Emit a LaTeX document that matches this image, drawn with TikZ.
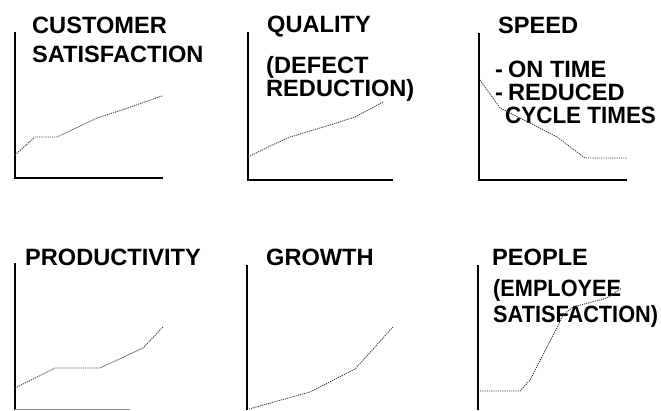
\documentclass[tikz,border=0pt]{standalone}
\usepackage{fontspec}
\usepackage{graphicx}
\setmainfont{Liberation Sans}
\newcommand{\narrowtxt}[2][0.92]{\scalebox{#1}[1]{#2}}
\begin{document}
\begin{tikzpicture}[x=1pt,y=-1pt,
  lbl/.style={anchor=base west,inner sep=0pt,font=\fontsize{23.6}{27}\selectfont\bfseries},
  axis/.style={line width=1.4pt,black},
  trend/.style={line width=0.9pt,black!75,dash pattern=on 1.2pt off 1pt}]
\useasboundingbox (0,0) rectangle (661,410);
% ---------- Panel 1: Customer satisfaction
\coordinate (a1t) at (15,32); \coordinate (a1o) at (15,178); \coordinate (a1r) at (163,178);
\draw[axis] (a1t) -- (a1o) -- (a1r);
\node[lbl] (t1a) at (32,33) {CUSTOMER};
\node[lbl] (t1b) at (32,62) {SATISFACTION};
\coordinate (c1a) at (15,155); \coordinate (c1b) at (35,137); \coordinate (c1c) at (57,137);
\coordinate (c1d) at (97,118); \coordinate (c1e) at (122,110); \coordinate (c1f) at (162,96);
\draw[trend] (c1a) -- (c1b) -- (c1c) -- (c1d) -- (c1e) -- (c1f);
% ---------- Panel 2: Quality
\coordinate (a2t) at (248,32); \coordinate (a2o) at (248,180); \coordinate (a2r) at (393,180);
\draw[axis] (a2t) -- (a2o) -- (a2r);
\node[lbl] (t2a) at (267,32) {QUALITY};
\node[lbl] (t2b) at (266,73) {(DEFECT};
\node[lbl] (t2c) at (266,96) {REDUCTION)};
\coordinate (c2a) at (248,157); \coordinate (c2b) at (270,146); \coordinate (c2c) at (290,137);
\coordinate (c2d) at (330,125); \coordinate (c2e) at (355,117); \coordinate (c2f) at (383,102);
\draw[trend] (c2a) -- (c2b) -- (c2c) -- (c2d) -- (c2e) -- (c2f);
% ---------- Panel 3: Speed
\coordinate (a3t) at (479,33); \coordinate (a3o) at (479,180); \coordinate (a3r) at (627,180);
\draw[axis] (a3t) -- (a3o) -- (a3r);
\node[lbl] (t3a) at (498,33) {SPEED};
\node[lbl] (t3b) at (495,77) {-\hspace{5pt}ON TIME};
\node[lbl] (t3c) at (495,100) {-\hspace{5pt}REDUCED};
\node[lbl] (t3d) at (505,123) {\narrowtxt[0.95]{CYCLE TIMES}};
\coordinate (c3a) at (480,80); \coordinate (c3b) at (500,108); \coordinate (c3c) at (530,123);
\coordinate (c3d) at (557,137); \coordinate (c3e) at (585,158); \coordinate (c3f) at (627,158);
\draw[trend] (c3a) -- (c3b) -- (c3c) -- (c3d) -- (c3e) -- (c3f);
% ---------- Panel 4: Productivity
\coordinate (a4t) at (15,263); \coordinate (a4o) at (15,410); \coordinate (a4r) at (130,409);
\draw[axis] (a4t) -- (a4o);
\draw[line width=1pt,black!45] (15,409) -- (a4r);
\node[lbl] (t4a) at (25,265) {PRODUCTIVITY};
\coordinate (c4a) at (15,388); \coordinate (c4b) at (55,368); \coordinate (c4c) at (100,368);
\coordinate (c4d) at (143,348); \coordinate (c4e) at (163,327);
\draw[trend] (c4a) -- (c4b) -- (c4c) -- (c4d) -- (c4e);
% ---------- Panel 5: Growth
\coordinate (a5t) at (247,265); \coordinate (a5o) at (247,410);
\draw[axis] (a5t) -- (a5o);
\node[lbl] (t5a) at (266,265) {GROWTH};
\coordinate (c5a) at (249,409); \coordinate (c5b) at (310,392); \coordinate (c5c) at (355,369);
\coordinate (c5d) at (393,327);
\draw[trend] (c5a) -- (c5b) -- (c5c) -- (c5d);
% ---------- Panel 6: People
\coordinate (a6t) at (478,265); \coordinate (a6o) at (478,410);
\draw[axis] (a6t) -- (a6o);
\node[lbl] (t6a) at (492,265) {PEOPLE};
\node[lbl] (t6b) at (493,296) {\narrowtxt{(EMPLOYEE}};
\node[lbl] (t6c) at (493,322) {\narrowtxt{SATISFACTION)}};
\coordinate (c6a) at (478,391); \coordinate (c6b) at (520,391); \coordinate (c6c) at (530,380);
\coordinate (c6d) at (547,347); \coordinate (c6e) at (557,328); \coordinate (c6f) at (563,315);
\coordinate (c6g) at (573,307); \coordinate (c6h) at (607,298); \coordinate (c6i) at (622,288);
\draw[trend] (c6a) -- (c6b) -- (c6c) -- (c6d) -- (c6e) -- (c6f) -- (c6g) -- (c6h) -- (c6i);
\end{tikzpicture}
\end{document}
